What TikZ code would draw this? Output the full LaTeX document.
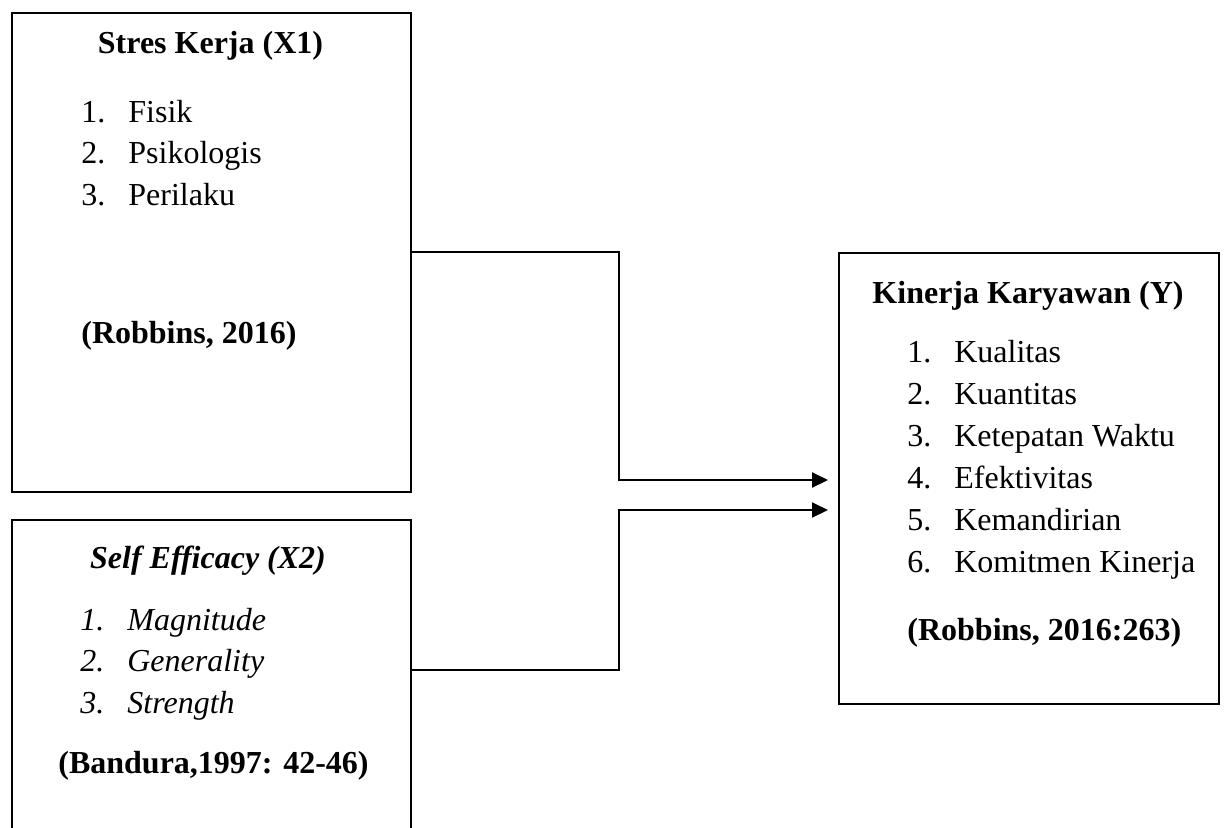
\documentclass[tikz,border=0pt]{standalone}
\usepackage{fontspec}
\setmainfont{Liberation Serif}
\usetikzlibrary{arrows.meta, positioning}
\newcommand{\txtsize}{\fontsize{16}{20}\selectfont}
\newcommand{\itm}[2]{\makebox[23.5pt][l]{#1}#2}

\begin{document}
\begin{tikzpicture}[
    x=0.5pt, y=-0.5pt,
    frame/.style={draw,line width=1pt,inner sep=0pt,anchor=north west},
    ttl/.style={font=\txtsize\bfseries,anchor=base,inner sep=0pt},
    lst/.style={font=\txtsize,anchor=base west,inner sep=0pt},
    src/.style={font=\txtsize\bfseries,anchor=base west,inner sep=0pt},
    arr/.style={-{Triangle[length=8pt,width=7.5pt]},line width=1pt}
]
  \clip (0,0) rectangle (1224,827);

  % Boxes
  \node[frame,minimum width=199.5pt,minimum height=239.5pt] (x1box) at (11,12) {};
  \node[frame,minimum width=199.5pt,minimum height=175pt] (x2box) at (11,519) {};
  \node[frame,minimum width=190pt,minimum height=225.5pt] (ybox) at (838,252) {};

  % Stres Kerja (X1)
  \node[ttl] (x1title) at (210.5,53) {Stres Kerja (X1)};
  \node[lst] (x1a) at (81,122) {\itm{1.}{Fisik}};
  \node[lst] (x1b) at (81,163.5) {\itm{2.}{Psikologis}};
  \node[lst] (x1c) at (81,205) {\itm{3.}{Perilaku}};
  \node[src] (x1src) at (81,343) {(Robbins, 2016)};

  % Self Efficacy (X2)
  \node[ttl,font=\txtsize\bfseries\itshape] (x2title) at (208,568) {Self Efficacy (X2)};
  \node[lst,font=\txtsize\itshape] (x2a) at (80,630) {\itm{1.}{Magnitude}};
  \node[lst,font=\txtsize\itshape] (x2b) at (80,671.5) {\itm{2.}{Generality}};
  \node[lst,font=\txtsize\itshape] (x2c) at (80,713) {\itm{3.}{Strength}};
  \node[src] (x2src) at (58,773) {(Bandura,1997: 42-46)};

  % Kinerja Karyawan (Y)
  \node[ttl] (ytitle) at (1028,303) {Kinerja Karyawan (Y)};
  \node[lst] (ya) at (907,362) {\itm{1.}{Kualitas}};
  \node[lst] (yb) at (907,404) {\itm{2.}{Kuantitas}};
  \node[lst] (yc) at (907,446) {\itm{3.}{Ketepatan Waktu}};
  \node[lst] (yd) at (907,488) {\itm{4.}{Efektivitas}};
  \node[lst] (ye) at (907,530) {\itm{5.}{Kemandirian}};
  \node[lst] (yf) at (907,572) {\itm{6.}{Komitmen Kinerja}};
  \node[src] (ysrc) at (907,640) {(Robbins, 2016:263)};

  % Connectors
  \coordinate (x1out) at (x1box.east |- 0,252);
  \coordinate (x2out) at (x2box.east |- 0,670);
  \coordinate (yin1) at ([xshift=-5pt]ybox.west |- 0,480);
  \coordinate (yin2) at ([xshift=-5pt]ybox.west |- 0,510);
  \draw[arr] (x1out) -| (619,480) -- (yin1);
  \draw[arr] (x2out) -| (619,510) -- (yin2);
\end{tikzpicture}
\end{document}
